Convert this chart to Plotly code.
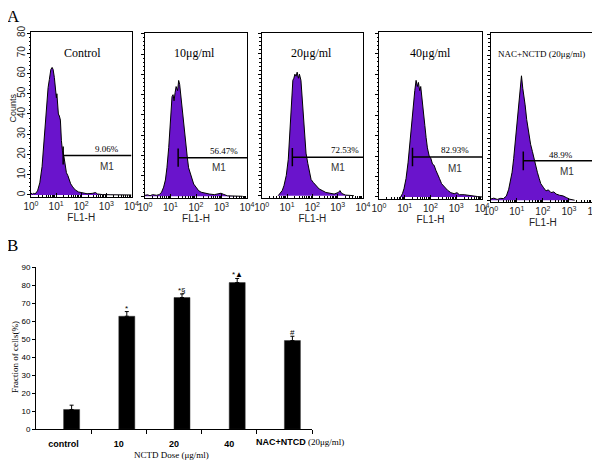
import numpy as np
import plotly.graph_objects as go

# ---------------- Panel A data ----------------
panel_titles = ["Control", "10μg/ml", "20μg/ml", "40μg/ml", "NAC+NCTD (20μg/ml)"]
m1_percent = ["9.06%", "56.47%", "72.53%", "82.93%", "48.9%"]
m1_start_log = [1.28, 1.30, 1.21, 1.30, 1.25]
m1_end_log = [4.0, 4.0, 4.0, 4.0, 3.95]
m1_end_tick = [False, False, False, False, True]
m1_level = [19.5, 19.0, 19.0, 19.5, 19.0]

h1_log = [0.0, 0.05, 0.10, 0.16, 0.26, 0.35, 0.44, 0.50, 0.57, 0.63, 0.68, 0.73, 0.79, 0.84, 0.88,
          0.93, 0.97, 1.01, 1.03, 1.05, 1.09, 1.13, 1.17, 1.21, 1.25, 1.31, 1.36, 1.41, 1.47, 1.52,
          1.58, 1.66, 1.76, 1.89, 2.03, 2.23, 2.44, 2.57, 2.64, 2.84, 3.18, 4.0]
h1_cnt = [1.0, 0.4, 0.8, 0.5, 2, 6, 14, 24, 34, 44, 53, 57, 62, 63, 62,
          58, 52, 48, 50, 44, 40, 39, 37, 27, 22, 19, 14, 11, 9.5, 7,
          5.5, 4, 2.5, 1.5, 1, 0.6, 0.8, 1.2, 0.5, 0.2, 0.1, 0]

h2_log = [0.0, 0.10, 0.20, 0.30, 0.45, 0.56, 0.65, 0.73, 0.80, 0.86, 0.93, 0.98, 1.03, 1.06, 1.10,
          1.14, 1.18, 1.22, 1.28, 1.32, 1.36, 1.40, 1.44, 1.48, 1.52, 1.56, 1.61, 1.66, 1.71, 1.78,
          1.84, 1.91, 2.0, 2.1, 2.2, 2.33, 2.52, 2.72, 2.89, 2.98, 3.07, 3.24, 3.83]
h2_cnt = [0.5, 0.7, 0.3, 0.8, 0.5, 0.8, 2, 4.5, 8, 14, 24, 34, 42, 49, 50,
          47, 51, 54, 52, 57, 55, 50, 45, 39, 34, 29, 24, 19, 14, 11,
          8, 6, 4.5, 2.8, 2, 1.5, 1.1, 0.8, 1.1, 1.5, 1, 0.2, 0]

h3_log = [0.65, 0.71, 0.81, 0.88, 0.97, 1.05, 1.10, 1.16, 1.19, 1.23, 1.27, 1.31, 1.36, 1.40, 1.45,
          1.49, 1.55, 1.60, 1.65, 1.70, 1.75, 1.82, 1.88, 1.95, 2.04, 2.14, 2.27, 2.40, 2.53, 2.66,
          2.86, 3.03, 3.09, 3.16, 3.31, 3.64]
h3_cnt = [0, 1, 2.5, 5, 10, 18, 28, 39, 49, 57, 58, 60, 59, 61, 58,
          60, 57, 48, 38, 28, 21, 16, 11.5, 8, 6.5, 5, 3.3, 2.5, 1.6, 1.3,
          0.8, 1.6, 2.5, 1.1, 0.3, 0]

h4_log = [0.84, 0.91, 0.97, 1.05, 1.13, 1.21, 1.27, 1.34, 1.39, 1.44, 1.49, 1.53, 1.58, 1.62, 1.68,
          1.73, 1.78, 1.83, 1.88, 1.95, 2.01, 2.08, 2.14, 2.21, 2.27, 2.35, 2.43, 2.53, 2.66, 2.79,
          2.92, 3.03, 3.12, 3.31, 3.44, 3.64, 3.83, 4.0]
h4_cnt = [0, 1.6, 4, 9, 17, 29, 38, 47, 52, 57, 54, 56, 52, 54, 48,
          42, 35, 29, 24, 20, 19, 16, 15.5, 13, 11.5, 9, 6.5, 5, 3.3, 2.1,
          1.6, 2.1, 1.1, 1.1, 0.8, 0.5, 0.2, 0]

h5_log = [0.0, 0.12, 0.25, 0.38, 0.49, 0.60, 0.69, 0.75, 0.82, 0.88, 0.95, 1.01, 1.08, 1.14, 1.18,
          1.23, 1.27, 1.32, 1.38, 1.43, 1.48, 1.53, 1.60, 1.66, 1.73, 1.79, 1.86, 1.92, 2.03, 2.12,
          2.21, 2.31, 2.42, 2.51, 2.64, 2.77, 2.90, 3.03, 3.22]
h5_cnt = [0.6, 1.0, 0.4, 0.9, 0.8, 2, 5.3, 9, 13.5, 20, 30, 39, 49, 56, 60,
          54, 49, 46, 39, 35, 30, 27, 23.5, 20, 17, 13.5, 10.5, 8, 6, 4.5,
          5, 3.7, 4, 3, 2.4, 2.1, 1.3, 0.5, 0]

hist_logs = [h1_log, h2_log, h3_log, h4_log, h5_log]
hist_cnts = [h1_cnt, h2_cnt, h3_cnt, h4_cnt, h5_cnt]

# label anchor positions (log10 FL1-H, counts)
pct_pos = [(3.02, 22.5), (3.08, 22.5), (3.30, 22.5), (2.95, 23), (2.69, 22)]
m1_pos = [(3.02, 14), (2.92, 14), (3.0, 14), (2.96, 14), (2.92, 14)]
title_pos = [(2.03, 70), (1.96, 70.5), (1.95, 70.5), (1.99, 70.5), (1.96, 70.5)]

# ---------------- Panel B data ----------------
categories = ["control", "10", "20", "40", "NAC+NTCD"]
last_label_suffix = "(20μg/ml)"
fractions = [11.0, 62.8, 73.2, 81.5, 49.3]
errors = [2.4, 2.6, 2.0, 2.3, 2.4]
sig_marks = ["", "*", "*§", "*▲", "#"]

# ---------------- Layout geometry ----------------
# the page body adds an 8px margin, so the figure is drawn 8px smaller and shifted
OFF = 8
FW, FH = 600 - OFF, 464 - OFF


def px_x(px):
    return (px - OFF) / FW


def px_y(py):
    return 1 - (py - OFF) / FH


panel_px = [(31, 131.5, 32, 197), (145, 247, 32.7, 198.3), (261.7, 363, 32.7, 197.7),
            (379, 482, 32.3, 199), (490.7, 595, 33.3, 202.3)]

PURPLE = "rgb(106,20,204)"
SERIF = "Liberation Serif"
SANS = "Liberation Sans"

fig = go.Figure()
layout = dict(width=FW, height=FH, margin=dict(l=0, r=0, t=0, b=0, autoexpand=False),
              paper_bgcolor="white", plot_bgcolor="white", showlegend=False)
annotations = []


def paper_text(px, py, text, font, angle=0):
    annotations.append(dict(x=px_x(px), y=px_y(py), xref="paper", yref="paper",
                            xanchor="center", yanchor="middle", text=text,
                            showarrow=False, textangle=angle, font=font))


minor_vals = [m * 10 ** d for d in range(4) for m in range(2, 10)]

for i in range(5):
    n = i + 1
    xa = "x" if n == 1 else f"x{n}"
    ya = "y" if n == 1 else f"y{n}"
    x0, x1, y0, y1 = panel_px[i]
    xs = 10 ** np.array(hist_logs[i])
    fig.add_trace(go.Scatter(x=xs, y=hist_cnts[i], mode="lines", fill="tozeroy",
                             fillcolor=PURPLE, line=dict(color="black", width=1),
                             xaxis=xa, yaxis=ya, hoverinfo="skip"))
    # M1 gate
    gs = 10 ** m1_start_log[i]
    ge = 10 ** m1_end_log[i]
    lv = m1_level[i]
    fig.add_trace(go.Scatter(x=[gs, ge], y=[lv, lv], mode="lines",
                             line=dict(color="black", width=1.5), xaxis=xa, yaxis=ya,
                             hoverinfo="skip"))
    fig.add_trace(go.Scatter(x=[gs, gs], y=[lv - 4.5, lv + 4.5], mode="lines",
                             line=dict(color="black", width=1.5), xaxis=xa, yaxis=ya,
                             hoverinfo="skip"))
    if m1_end_tick[i]:
        fig.add_trace(go.Scatter(x=[ge, ge], y=[lv - 4.5, lv + 4.5], mode="lines",
                                 line=dict(color="black", width=1.5), xaxis=xa, yaxis=ya,
                                 hoverinfo="skip"))

    axkey = "xaxis" if n == 1 else f"xaxis{n}"
    aykey = "yaxis" if n == 1 else f"yaxis{n}"
    layout[axkey] = dict(
        domain=[px_x(x0), px_x(x1)], anchor=ya, type="log", range=[0, 4], automargin=False,
        tickvals=[1, 10, 100, 1000, 10000],
        ticktext=[f"10<sup>{k}</sup>" for k in range(5)],
        ticklabeloverflow="allow",
        ticks="inside", ticklen=4, tickcolor="black",
        minor=dict(tickvals=minor_vals, ticks="inside", ticklen=2, tickcolor="black"),
        showline=True, linecolor="black", linewidth=1, mirror=True,
        showgrid=False, zeroline=False,
        tickfont=dict(family=SANS, size=10, color="#222"),
        title=dict(text="FL1-H", font=dict(family=SANS, size=10, color="#222"), standoff=0),
        fixedrange=True)
    layout[aykey] = dict(
        domain=[px_y(y1), px_y(y0)], anchor=xa, range=[-1, 80.5], automargin=False,
        tickvals=list(range(0, 81, 10)), ticks="outside", ticklen=3, tickcolor="black",
        minor=dict(dtick=2, ticks="outside", ticklen=1.5, tickcolor="black"),
        showticklabels=(n == 1), tickangle=-90, ticklabelstandoff=-2,
        tickfont=dict(family=SANS, size=10, color="#222"),
        showline=True, linecolor="black", linewidth=1, mirror=True,
        showgrid=False, zeroline=False, fixedrange=True)

    annotations.append(dict(x=pct_pos[i][0], y=pct_pos[i][1], xref=xa, yref=ya,
                            text=m1_percent[i], showarrow=False,
                            font=dict(family=SERIF, size=9, color="black")))
    annotations.append(dict(x=m1_pos[i][0], y=m1_pos[i][1], xref=xa, yref=ya,
                            text="M1", showarrow=False,
                            font=dict(family=SANS, size=10, color="#333")))
    annotations.append(dict(x=title_pos[i][0], y=title_pos[i][1], xref=xa, yref=ya,
                            text=panel_titles[i], showarrow=False,
                            font=dict(family=SERIF, size=12 if i < 4 else 9, color="black")))

paper_text(12.5, 108, "Counts", dict(family=SANS, size=9, color="#222"), angle=-90)

# ---------------- Panel B ----------------
bar_w = 0.29
xcat = list(range(len(categories)))
fig.add_trace(go.Bar(x=xcat, y=fractions, width=bar_w, offset=0,
                     marker=dict(color="black", line=dict(color="#333", width=0.5)),
                     error_y=dict(type="data", array=errors, arrayminus=[0] * len(errors),
                                  symmetric=False, color="black", thickness=1, width=2),
                     xaxis="x6", yaxis="y6", hoverinfo="skip"))

tick_text = [f"<b>{c}</b>" for c in categories]
tick_text[-1] = ""
layout["xaxis6"] = dict(domain=[px_x(36), px_x(312)], anchor="y6", range=[-0.5, 4.5],
                        automargin=False,
                        tickvals=xcat, ticktext=tick_text, ticks="", ticklabelstandoff=6,
                        minor=dict(tickvals=[k + 0.5 for k in xcat], ticks="outside",
                                   ticklen=4, tickcolor="black"),
                        tickfont=dict(family=SANS, size=9, color="black"),
                        showline=True, linecolor="black", linewidth=1,
                        showgrid=False, zeroline=False, fixedrange=True)
layout["yaxis6"] = dict(domain=[px_y(429.3), px_y(267.3)], anchor="x6", range=[0, 90],
                        automargin=False,
                        tickvals=list(range(0, 91, 10)), ticks="outside", ticklen=3,
                        tickcolor="black",
                        tickfont=dict(family=SANS, size=8, color="black"),
                        tickprefix="<b>", ticksuffix="</b>",
                        showline=True, linecolor="black", linewidth=1,
                        showgrid=False, zeroline=False, fixedrange=True)

# last category label (bold name + serif dose), drawn left-aligned like the reference
annotations.append(dict(x=xcat[-1] - 0.55, y=px_y(442), xref="x6", yref="paper",
                        xanchor="left", yanchor="middle",
                        text=(f"<b>{categories[-1]}</b><span style=\"font-family:{SERIF};"
                              f"font-size:9px\"> {last_label_suffix}</span>"),
                        showarrow=False, font=dict(family=SANS, size=9, color="black")))

for i, mk in enumerate(sig_marks):
    if mk:
        annotations.append(dict(x=xcat[i] + bar_w / 2, y=fractions[i] + errors[i],
                                xref="x6", yref="y6", text=mk, showarrow=False,
                                xanchor="center", yanchor="bottom", yshift=-3,
                                font=dict(family=SANS, size=8, color="black")))

paper_text(171.7, 455, "NCTD Dose (μg/ml)", dict(family=SERIF, size=9, color="black"))
paper_text(15, 357, "Fraction of cells(%)", dict(family=SERIF, size=9, color="black"), angle=-90)
paper_text(13, 16, "A", dict(family=SERIF, size=17, color="black"))
paper_text(12, 246, "B", dict(family=SERIF, size=17, color="black"))

layout["annotations"] = annotations
fig.update_layout(**layout)
fig.write_html("out.html")
